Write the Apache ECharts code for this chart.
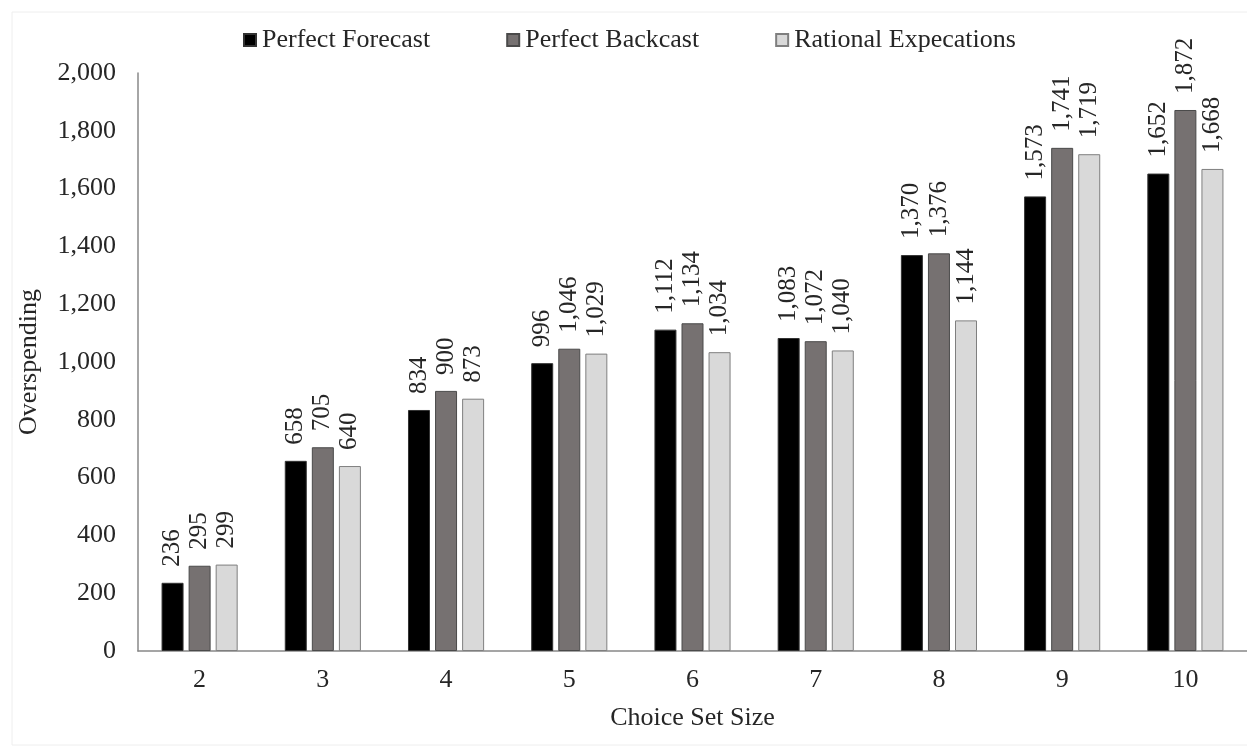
<!DOCTYPE html>
<html>
<head>
<meta charset="utf-8">
<script src="https://cdn.jsdelivr.net/npm/echarts@6/dist/echarts.min.js"></script>
<style>
html,body{margin:0;padding:0;background:#fff;}
#chart{width:1247px;height:748px;}
</style>
</head>
<body>
<div id="chart"></div>
<script>
const categories = ['2','3','4','5','6','7','8','9','10'];
const perfectForecast = [236, 658, 834, 996, 1112, 1083, 1370, 1573, 1652];
const perfectBackcast = [295, 705, 900, 1046, 1134, 1072, 1376, 1741, 1872];
const rationalExpectations = [299, 640, 873, 1029, 1034, 1040, 1144, 1719, 1668];
const seriesNames = ['Perfect Forecast', 'Perfect Backcast', 'Rational Expecations'];

const FONT = 'Liberation Serif';
const fmt = v => Number(v).toLocaleString('en-US');

const chart = echarts.init(document.getElementById('chart'), null, {renderer: 'canvas'});

function mkSeries(name, data, color, border) {
  return {
    name: name,
    type: 'bar',
    data: data,
    barWidth: 22,
    barGap: '23%',
    itemStyle: {color: color, borderColor: border, borderWidth: 1},
    label: {
      show: true,
      position: 'top',
      rotate: 90,
      align: 'left',
      verticalAlign: 'middle',
      distance: 16,
      formatter: p => fmt(p.value),
      fontFamily: FONT,
      fontSize: 25,
      color: '#262626'
    }
  };
}

chart.setOption({
  backgroundColor: '#fff',
  animation: false,
  graphic: [{
    type: 'rect',
    shape: {x: 12, y: 12, width: 1240, height: 733},
    style: {fill: 'none', stroke: '#eeeeee', lineWidth: 1},
    silent: true
  }],
  legend: {
    top: 22,
    left: 238,
    itemWidth: 12,
    itemHeight: 12,
    itemGap: 76,
    icon: 'rect',
    data: seriesNames,
    textStyle: {fontFamily: FONT, fontSize: 26, color: '#262626', padding: [0, 0, 0, 1]}
  },
  grid: {left: 138, right: 0, top: 73, bottom: 97, containLabel: false},
  xAxis: {
    type: 'category',
    data: categories,
    name: 'Choice Set Size',
    nameLocation: 'middle',
    nameGap: 54,
    nameTextStyle: {fontFamily: FONT, fontSize: 26, color: '#262626'},
    axisLine: {show: true, lineStyle: {color: '#888', width: 1.5}},
    axisTick: {show: false},
    axisLabel: {fontFamily: FONT, fontSize: 26, color: '#262626', margin: 16}
  },
  yAxis: {
    type: 'value',
    min: 0,
    max: 2000,
    interval: 200,
    name: 'Overspending',
    nameLocation: 'middle',
    nameGap: 96,
    nameTextStyle: {fontFamily: FONT, fontSize: 26, color: '#262626'},
    axisLine: {show: true, lineStyle: {color: '#888', width: 1.5}},
    axisTick: {show: false},
    splitLine: {show: false},
    axisLabel: {fontFamily: FONT, fontSize: 26, color: '#262626', margin: 22, formatter: v => fmt(v)}
  },
  series: [
    mkSeries(seriesNames[0], perfectForecast, '#000000', '#333333'),
    mkSeries(seriesNames[1], perfectBackcast, '#767171', '#4a4a4a'),
    mkSeries(seriesNames[2], rationalExpectations, '#d9d9d9', '#7f7f7f')
  ]
});
</script>
</body>
</html>
